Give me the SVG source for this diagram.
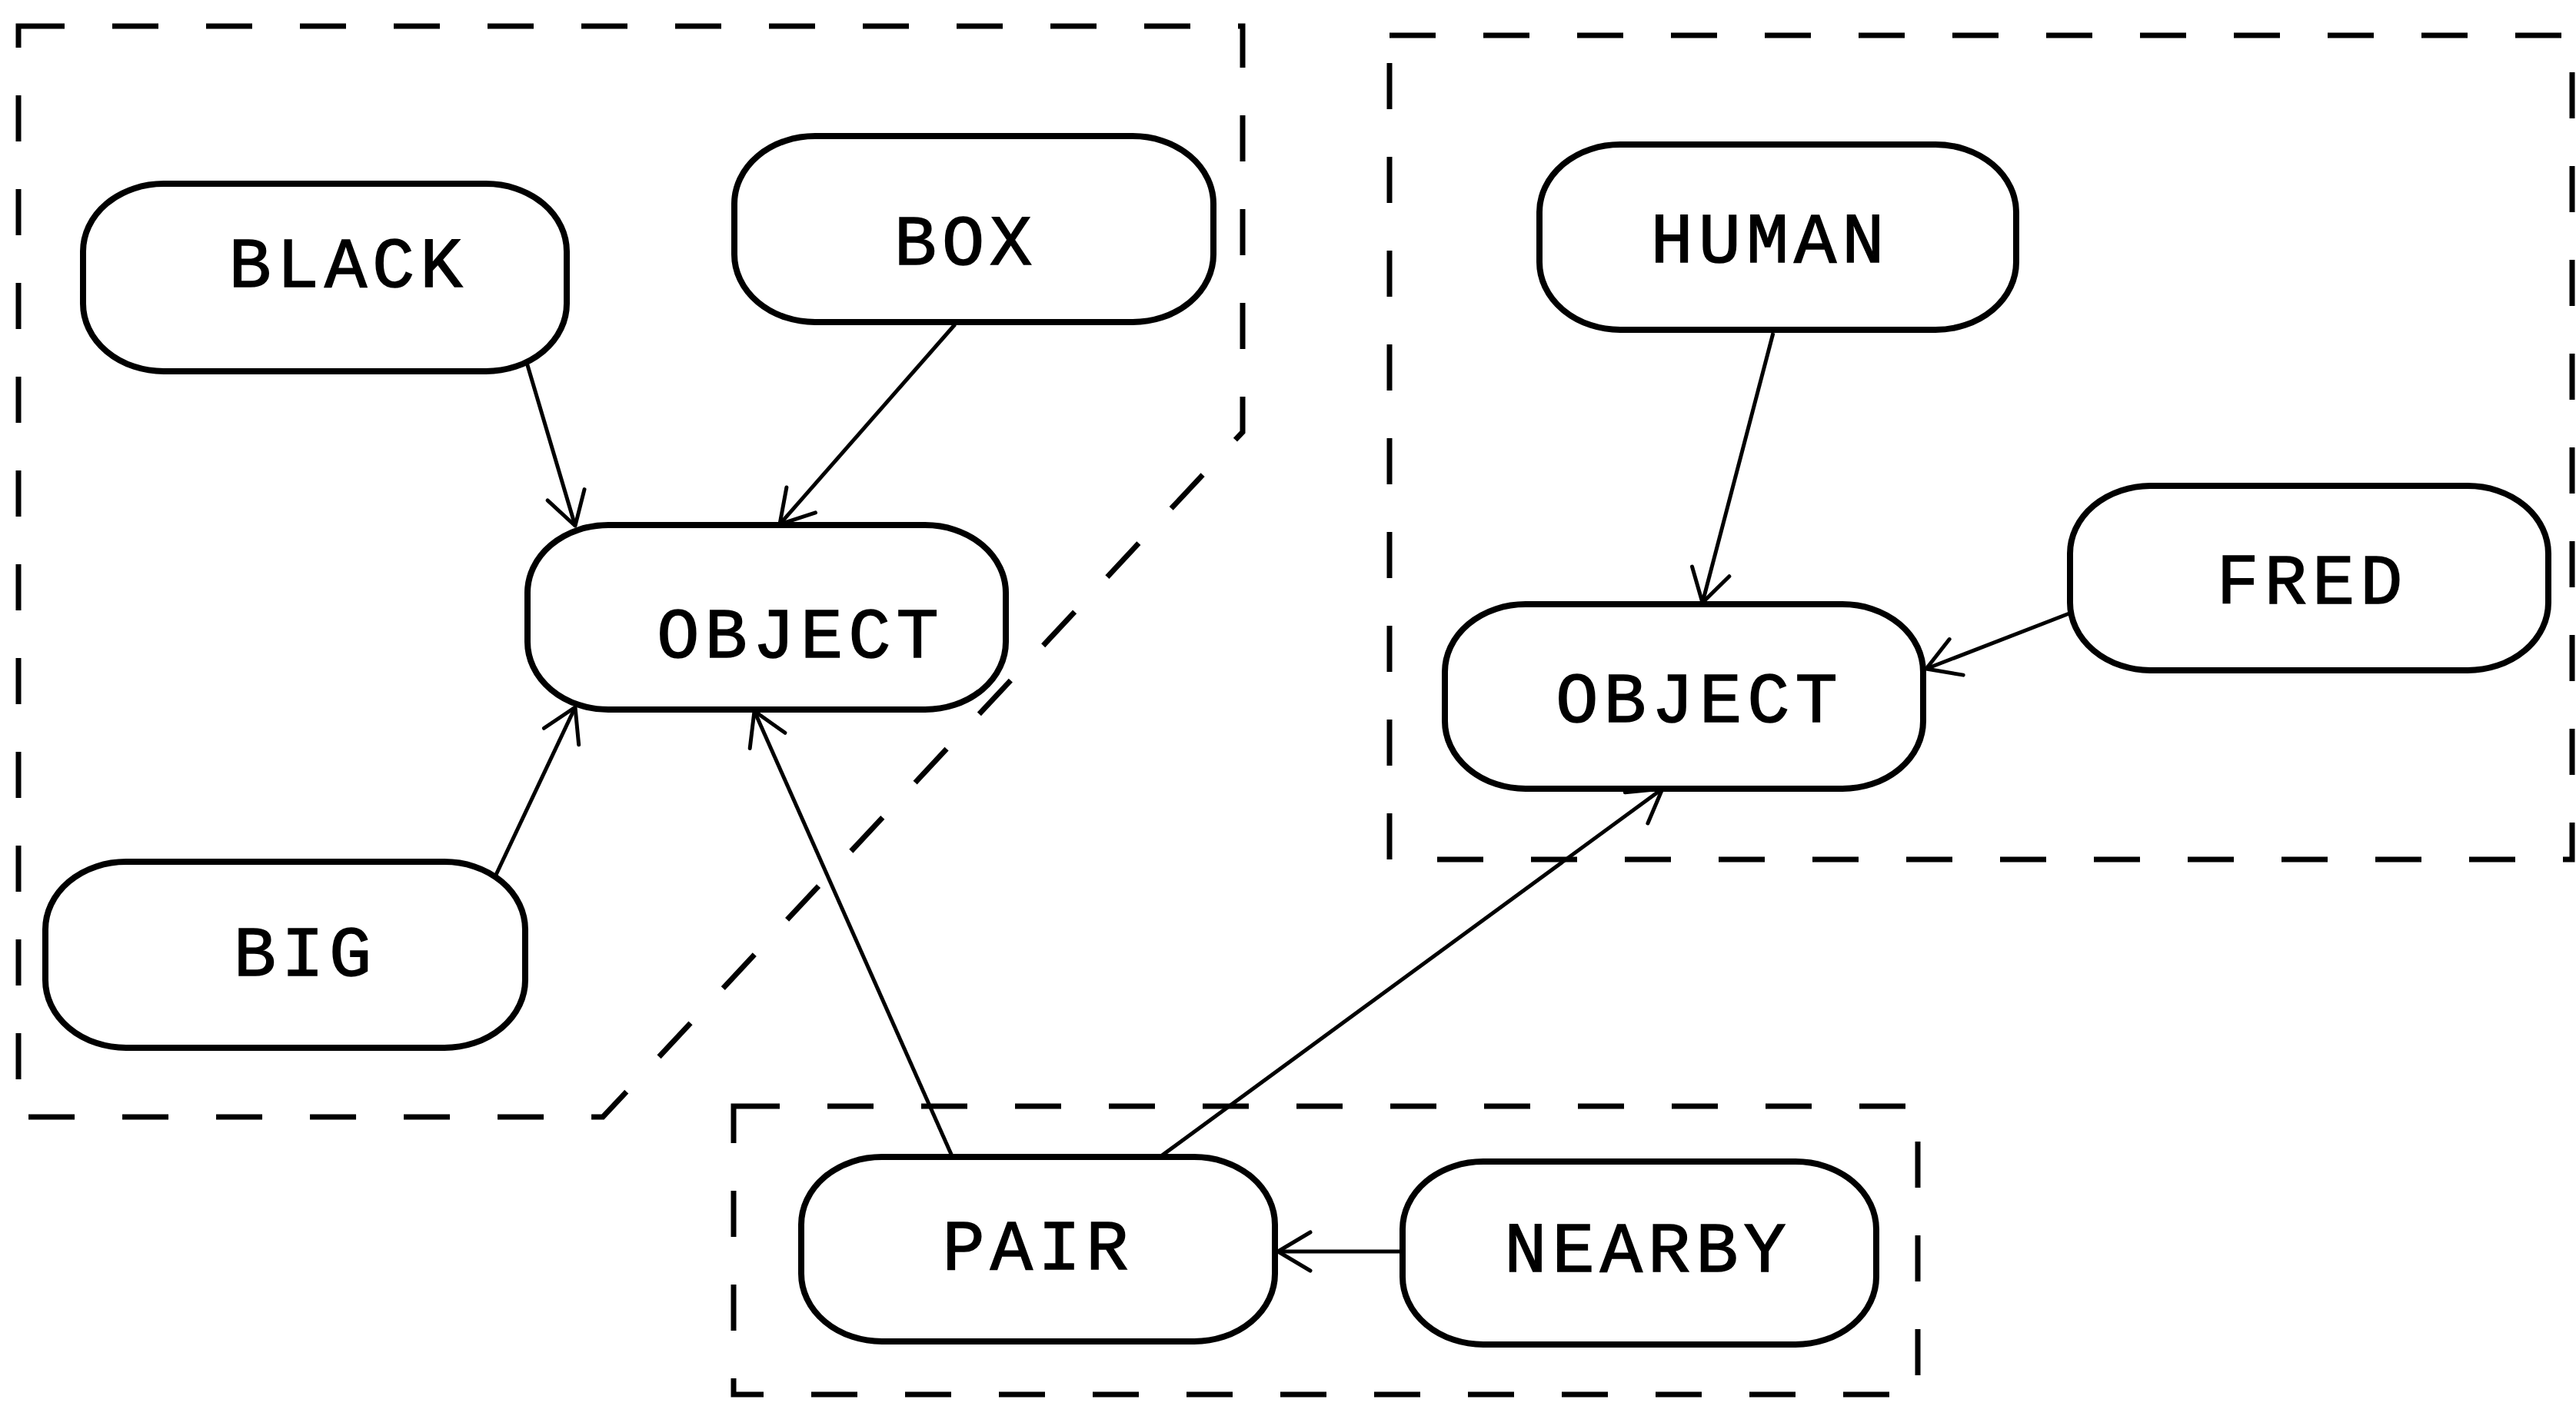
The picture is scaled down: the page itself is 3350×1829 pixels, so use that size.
<svg xmlns="http://www.w3.org/2000/svg" width="3350" height="1829" viewBox="0 0 3350 1829">
  <style>
    .bg { fill: #ffffff; }
    .group { fill: none; stroke: #000; stroke-width: 7; stroke-dasharray: 60 62; }
    .node rect { fill: #ffffff; stroke: #000; stroke-width: 8; }
    .node text { font-family: "Liberation Mono", "DejaVu Sans Mono", monospace; font-size: 92px; letter-spacing: 7px; text-anchor: middle; fill: #000; stroke: #000; stroke-width: 1.5; }
    .edge { fill: none; stroke: #000; stroke-width: 5; marker-end: url(#arrow); }
  </style>
  <defs>
    <marker id="arrow" markerUnits="userSpaceOnUse" markerWidth="80" markerHeight="80" viewBox="-60 -40 80 80" refX="0" refY="0" orient="auto" overflow="visible">
      <path d="M -42 -25 L 0 0 L -42 25" fill="none" stroke="#000" stroke-width="5" stroke-linecap="round" stroke-linejoin="round"/>
    </marker>
  </defs>

  <rect class="bg" x="0" y="0" width="3350" height="1829"/>

  <!-- dashed grouping outlines -->
  <g id="groups">
    <path id="group-left" class="group" d="M 24 34 H 1616 V 562 L 784 1453 H 24 Z"/>
    <rect id="group-right" class="group" x="1807" y="46" width="1538" height="1072"/>
    <rect id="group-bottom" class="group" x="954" y="1439" width="1540" height="375"/>
  </g>

  <!-- connectors -->
  <g id="connectors">
    <line class="edge" x1="683" y1="465" x2="748" y2="684"/>
    <line class="edge" x1="1242" y1="422" x2="1014" y2="682"/>
    <line class="edge" x1="645" y1="1138" x2="748" y2="920"/>
    <line class="edge" x1="1239" y1="1506" x2="981" y2="925"/>
    <line class="edge" x1="1507" y1="1506" x2="2162" y2="1026"/>
    <line class="edge" x1="1824" y1="1628" x2="1662" y2="1628"/>
    <line class="edge" x1="2306" y1="433" x2="2214" y2="784"/>
    <line class="edge" x1="2691" y1="798" x2="2505" y2="870"/>
  </g>

  <!-- nodes -->
  <g id="node-black" class="node">
    <rect x="108" y="239" width="629" height="244" rx="105" ry="88"/>
    <text x="453" y="373">BLACK</text>
  </g>
  <g id="node-box" class="node">
    <rect x="955" y="177" width="623" height="242" rx="105" ry="88"/>
    <text x="1256" y="344">BOX</text>
  </g>
  <g id="node-object-left" class="node">
    <rect x="686" y="683" width="622" height="240" rx="105" ry="88"/>
    <text x="1041" y="855">OBJECT</text>
  </g>
  <g id="node-big" class="node">
    <rect x="59" y="1121" width="624" height="242" rx="105" ry="88"/>
    <text x="397" y="1269">BIG</text>
  </g>
  <g id="node-pair" class="node">
    <rect x="1042" y="1505" width="616" height="240" rx="105" ry="88"/>
    <text x="1350" y="1651">PAIR</text>
  </g>
  <g id="node-nearby" class="node">
    <rect x="1824" y="1511" width="616" height="238" rx="105" ry="88"/>
    <text x="2143" y="1654">NEARBY</text>
  </g>
  <g id="node-human" class="node">
    <rect x="2002" y="188" width="620" height="241" rx="105" ry="88"/>
    <text x="2302" y="341">HUMAN</text>
  </g>
  <g id="node-fred" class="node">
    <rect x="2692" y="632" width="622" height="240" rx="105" ry="88"/>
    <text x="3007" y="785">FRED</text>
  </g>
  <g id="node-object-right" class="node">
    <rect x="1879" y="786" width="622" height="240" rx="105" ry="88"/>
    <text x="2210" y="939">OBJECT</text>
  </g>
</svg>
